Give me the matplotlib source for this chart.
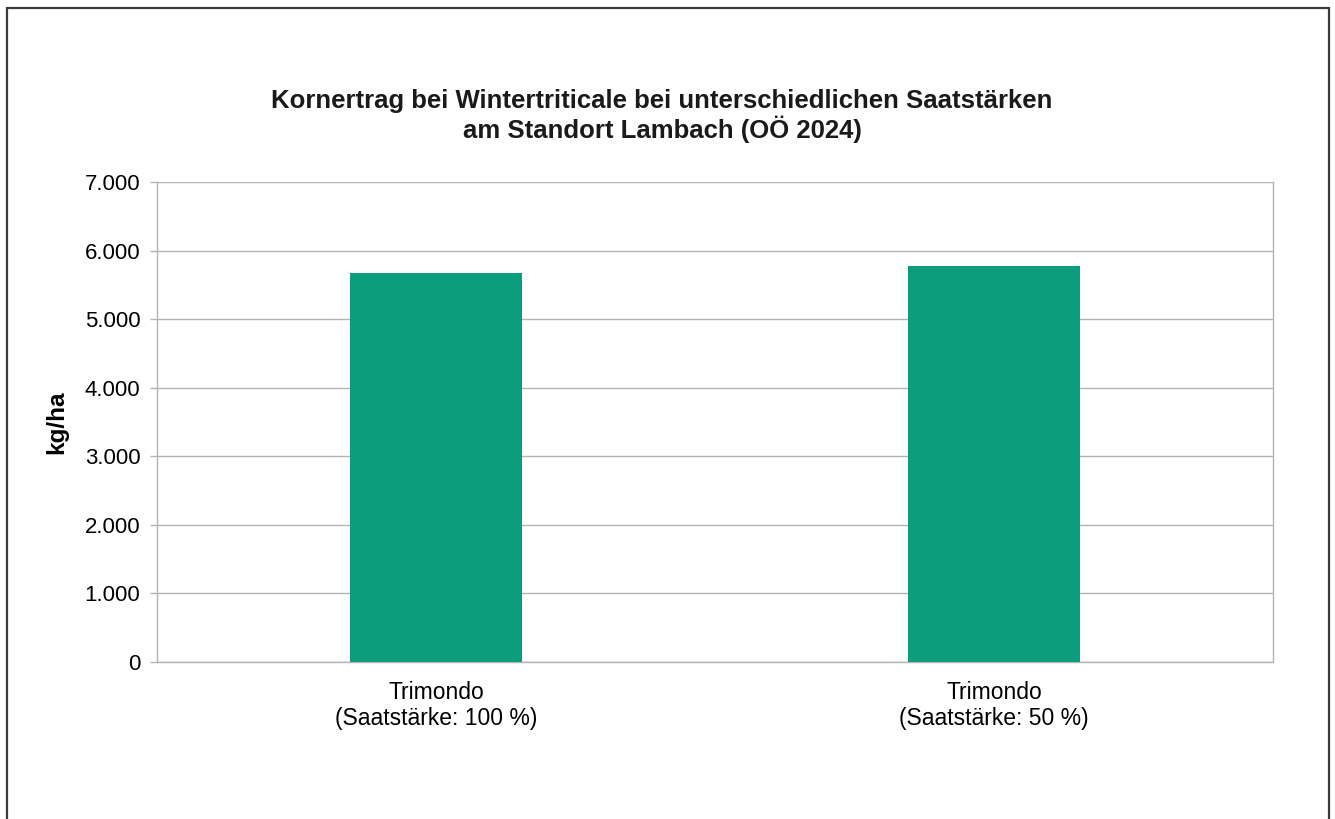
import matplotlib
matplotlib.use("Agg")
import matplotlib.pyplot as plt
from matplotlib.patches import Rectangle
from matplotlib.ticker import FuncFormatter, MultipleLocator

plt.rcParams['font.family'] = ['Liberation Sans', 'DejaVu Sans']

categories = ["Trimondo\n(Saatstärke: 100 %)", "Trimondo\n(Saatstärke: 50 %)"]
values = [5670, 5780]
title = "Kornertrag bei Wintertriticale bei unterschiedlichen Saatstärken\nam Standort Lambach (OÖ 2024)"
ylabel = "kg/ha"

W, H = 1335, 819
fig = plt.figure(figsize=(W / 100, H / 100), dpi=100)
fig.patch.set_facecolor("white")

# outer frame
fig.add_artist(Rectangle((6.5 / W, -0.05), (1329 - 6.5) / W, 1.05 - 7.5 / H,
                         transform=fig.transFigure, fill=False,
                         edgecolor="#3a3a3a", linewidth=1.6))

ax = fig.add_axes([157 / W, 1 - 662 / H, (1273 - 157) / W, (662 - 182) / H])
x = range(len(categories))
ax.bar(x, values, width=0.31, color="#0c9e7c", zorder=3)
ax.set_xlim(-0.5, len(categories) - 0.5)
ax.set_ylim(0, 7000)
ax.yaxis.set_major_locator(MultipleLocator(1000))
ax.yaxis.set_major_formatter(FuncFormatter(lambda v, p: f"{int(v):,}".replace(",", ".")))
ax.grid(axis="y", color="#b3b3b3", linewidth=1.0, zorder=0)
ax.set_axisbelow(True)
for s in ["left", "right", "bottom", "top"]:
    ax.spines[s].set_color("#b3b3b3")
    ax.spines[s].set_linewidth(1.0)
ax.spines["top"].set_visible(False)
ax.set_xticks(list(x))
ax.set_xticklabels(categories, fontsize=16.5, linespacing=1.12)
ax.tick_params(axis="x", length=0, pad=14)
ax.tick_params(axis="y", length=5, width=1, color="#b3b3b3", pad=7, labelsize=16)
ax.set_ylabel(ylabel, fontsize=17.5, fontweight="bold")
ax.yaxis.set_label_coords((68 - 157) / (1273 - 157), 0.5)

fig.text(662 / W, 1 - 116 / H, title, ha="center", va="center",
         fontsize=18.5, fontweight="bold", linespacing=1.15, color="#1a1a1a")

fig.savefig("out.png", dpi=100)
